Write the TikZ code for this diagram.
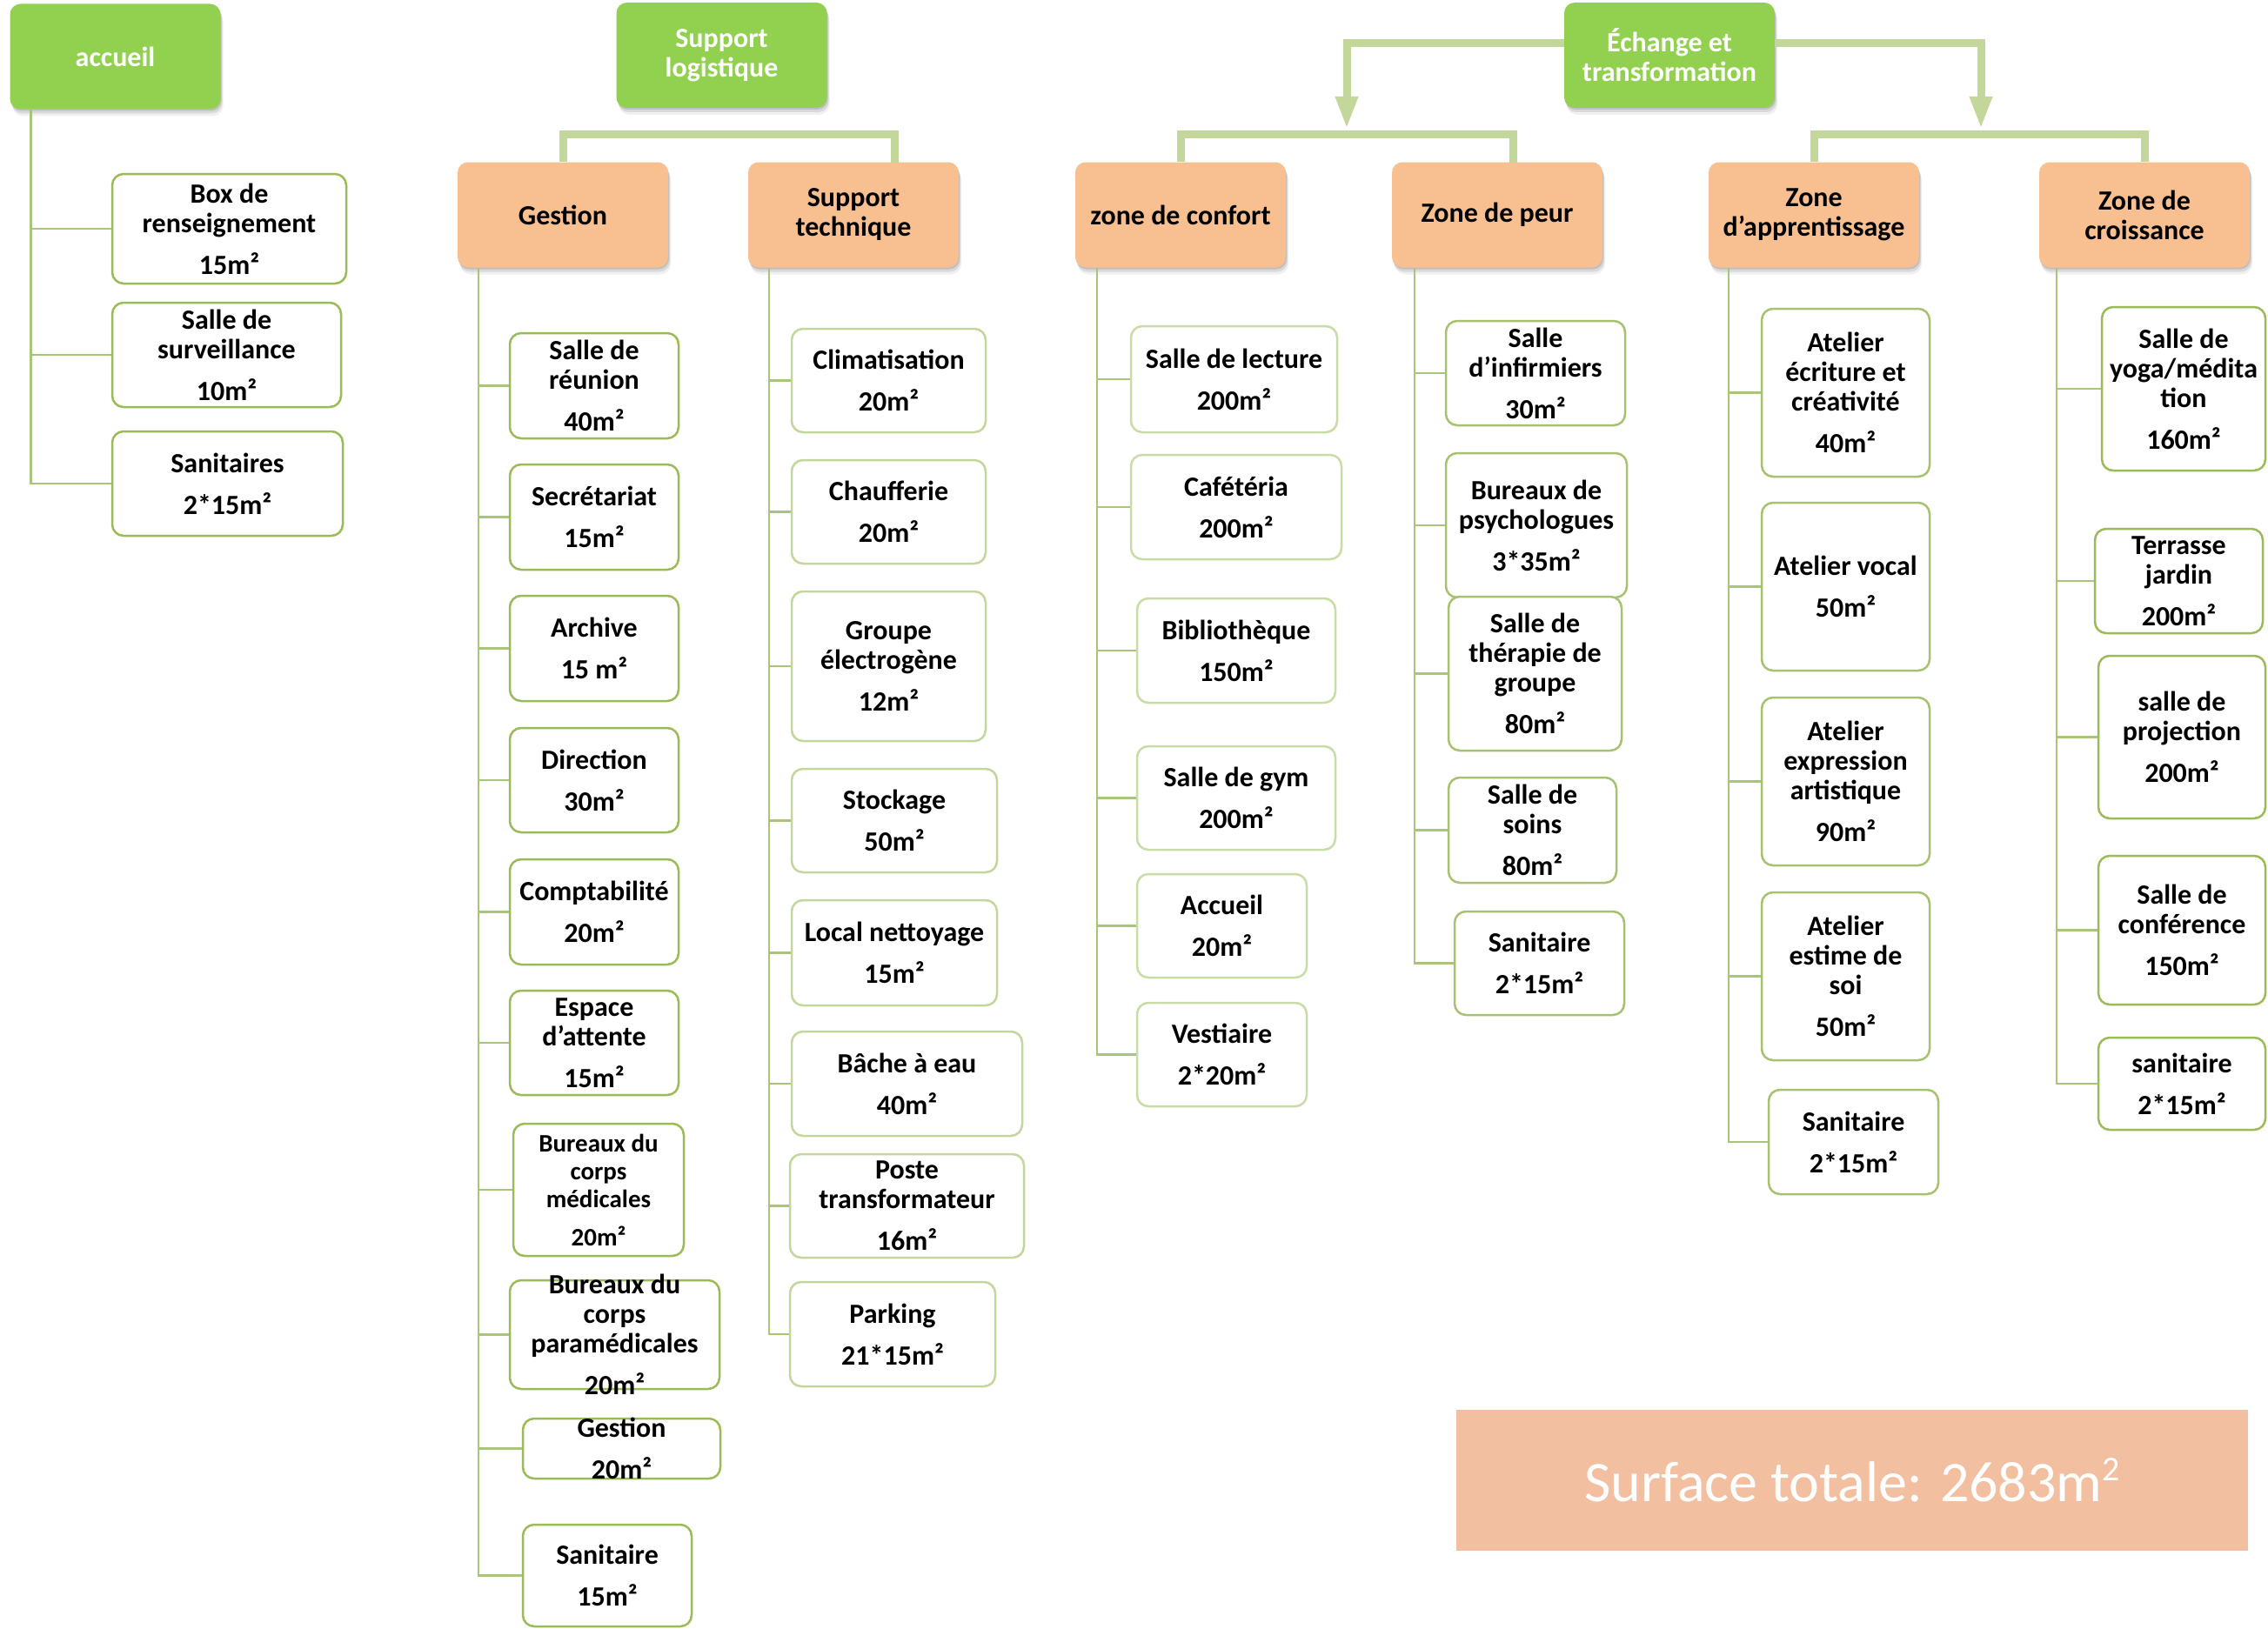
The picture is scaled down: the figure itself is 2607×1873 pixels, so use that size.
\documentclass[tikz,border=0pt]{standalone}
\usepackage{fontspec}
\setmainfont{Carlito}
\usetikzlibrary{arrows.meta,shadows,calc}
\definecolor{gfill}{HTML}{92D050}
\definecolor{ofill}{HTML}{F8BF90}
\definecolor{sfill}{HTML}{F2BFA0}
\definecolor{brk}{HTML}{C4D79B}
\definecolor{lconn}{HTML}{A8C57A}
\definecolor{bA}{HTML}{9BBB59}
\definecolor{bB}{HTML}{C3D69B}
\definecolor{bC}{HTML}{C9DCA5}
\definecolor{bD}{HTML}{A6C270}
\tikzset{
  topbox/.style={rounded corners=12pt, minimum width=242pt, minimum height=121pt,
    align=center, inner sep=0pt,
    drop shadow={shadow xshift=1pt, shadow yshift=-2pt, opacity=0.18, fill=black!70},
    drop shadow={shadow xshift=2pt, shadow yshift=-5pt, opacity=0.14, fill=black!70},
    drop shadow={shadow xshift=3pt, shadow yshift=-8pt, opacity=0.08, fill=black!70}},
  greenbox/.style={topbox, fill=gfill, text=white, font=\fontsize{32}{34}\selectfont\bfseries},
  orangebox/.style={topbox, fill=ofill, text=black, font=\fontsize{32}{34}\selectfont\bfseries},
  leafbox/.style={draw, line width=2.5pt, rounded corners=13pt, fill=white, inner sep=0pt},
  ltext/.style={align=center, inner sep=0pt, font=\fontsize{32}{34}\selectfont\bfseries},
  smalltext/.style={align=center, inner sep=0pt, font=\fontsize{29}{32}\selectfont\bfseries},
  bracket/.style={draw=brk, line width=9pt, line join=miter},
  arrowline/.style={draw=brk, line width=9pt, line join=miter, -{Triangle[width=24pt,length=37pt]}},
  conn/.style={draw=lconn, line width=2.5pt},
}
\newcommand\leaf[8]{%
  \pgfmathsetmacro\lfW{#6-#4}\pgfmathsetmacro\lfH{#7-#5}%
  \pgfmathsetmacro\lfX{(#4+#6)/2}\pgfmathsetmacro\lfY{(#5+#7)/2}%
  \node[leafbox,#1,minimum width=\lfW pt,minimum height=\lfH pt] (#3) at (\lfX,\lfY) {};
  \node[#2] at (#3.center) {#8};}
\begin{document}
\begin{tikzpicture}[x=1pt,y=-1pt]
\useasboundingbox (0,0) rectangle (2607,1873);
\fill[white] (0,0) rectangle (2607,1873);

\coordinate (sb) at (1028,187);
\coordinate (pb) at (1739,187);
\coordinate (ey) at (0,50);
\coordinate (al) at (1548,148);
\coordinate (ar) at (2277,148);

% top level
\node[greenbox] (accueil) at (132.5,65) {accueil};
\node[greenbox] (slog) at (829.5,63.5) {Support\\logistique};
\node[greenbox] (ech) at (1919,63.5) {Échange et\\transformation};

% second level
\node[orangebox] (gestion) at (647,247) {Gestion};
\node[orangebox] (stech) at (981,247) {Support\\technique};
\node[orangebox] (confort) at (1357,247) {zone de confort};
\node[orangebox] (peur) at (1721,247) {Zone de peur};
\node[orangebox] (app) at (2085,247) {Zone\\d’apprentissage};
\node[orangebox] (crois) at (2465,247) {Zone de\\croissance};

\draw[bracket] (gestion.north) -- ++(0,-32) -| (sb);
\draw[bracket] (confort.north) -- ++(0,-32) -| (pb);
\draw[bracket] (app.north) -- ++(0,-32) -| (crois.north);
\draw[arrowline] (ech.west |- ey) -| (al);
\draw[arrowline] (ech.east |- ey) -| (ar);

% accueil leaves
\leaf{draw=bA}{ltext}{a1}{129}{200}{398}{326}{Box de\\renseignement\\[14pt]15m²}
\leaf{draw=bA}{ltext}{a2}{129}{348}{392}{468}{Salle de\\surveillance\\[14pt]10m²}
\leaf{draw=bA}{ltext}{a3}{129}{496}{394}{616}{Sanitaires\\[14pt]2*15m²}

% gestion leaves
\leaf{draw=bA}{ltext}{g1}{586}{383}{780}{504}{Salle de\\réunion\\[14pt]40m²}
\leaf{draw=bA}{ltext}{g2}{586}{534}{780}{655}{Secrétariat\\[14pt]15m²}
\leaf{draw=bA}{ltext}{g3}{586}{685}{780}{806}{Archive\\[14pt]15 m²}
\leaf{draw=bA}{ltext}{g4}{586}{837}{780}{957}{Direction\\[14pt]30m²}
\leaf{draw=bA}{ltext}{g5}{586}{988}{780}{1109}{Comptabilité\\[14pt]20m²}
\leaf{draw=bA}{ltext}{g6}{586}{1139}{780}{1259}{Espace\\d’attente\\[14pt]15m²}
\leaf{draw=bA}{smalltext}{g7}{590}{1292}{786}{1444}{Bureaux du\\corps\\médicales\\[12pt]20m²}
\leaf{draw=bA}{ltext}{g8}{586}{1472}{827}{1597}{Bureaux du\\corps\\paramédicales\\[14pt]20m²}
\leaf{draw=bA}{ltext}{g9}{601}{1631}{828}{1700}{Gestion\\[14pt]20m²}
\leaf{draw=bA}{ltext}{g10}{601}{1753}{795}{1870}{Sanitaire\\[14pt]15m²}

% support technique leaves
\leaf{draw=bB}{ltext}{t1}{910}{378}{1133}{497}{Climatisation\\[14pt]20m²}
\leaf{draw=bB}{ltext}{t2}{910}{529}{1133}{648}{Chaufferie\\[14pt]20m²}
\leaf{draw=bB}{ltext}{t3}{910}{680}{1133}{852}{Groupe\\électrogène\\[14pt]12m²}
\leaf{draw=bB}{ltext}{t4}{910}{884}{1146}{1003}{Stockage\\[14pt]50m²}
\leaf{draw=bB}{ltext}{t5}{910}{1035}{1146}{1156}{Local nettoyage\\[14pt]15m²}
\leaf{draw=bB}{ltext}{t6}{910}{1186}{1175}{1306}{Bâche à eau\\[14pt]40m²}
\leaf{draw=bB}{ltext}{t7}{908}{1327}{1177}{1446}{Poste\\transformateur\\[14pt]16m²}
\leaf{draw=bB}{ltext}{t8}{908}{1474}{1144}{1594}{Parking\\[14pt]21*15m²}

% zone de confort leaves
\leaf{draw=bC}{ltext}{c1}{1300}{375}{1537}{497}{Salle de lecture\\[14pt]200m²}
\leaf{draw=bC}{ltext}{c2}{1300}{523}{1542}{643}{Cafétéria\\[14pt]200m²}
\leaf{draw=bC}{ltext}{c3}{1307}{688}{1535}{808}{Bibliothèque\\[14pt]150m²}
\leaf{draw=bC}{ltext}{c4}{1307}{858}{1535}{977}{Salle de gym\\[14pt]200m²}
\leaf{draw=bC}{ltext}{c5}{1307}{1005}{1502}{1124}{Accueil\\[14pt]20m²}
\leaf{draw=bC}{ltext}{c6}{1307}{1153}{1502}{1272}{Vestiaire\\[14pt]2*20m²}

% zone de peur leaves
\leaf{draw=bD}{ltext}{p1}{1662}{369}{1868}{489}{Salle\\d’infirmiers\\[14pt]30m²}
\leaf{draw=bD}{ltext}{p2}{1662}{521}{1870}{687}{Bureaux de\\psychologues\\[14pt]3*35m²}
\leaf{draw=bD}{ltext}{p3}{1665}{686}{1864}{863}{Salle de\\thérapie de\\groupe\\[14pt]80m²}
\leaf{draw=bD}{ltext}{p4}{1665}{894}{1858}{1015}{Salle de\\soins\\[14pt]80m²}
\leaf{draw=bD}{ltext}{p5}{1672}{1048}{1867}{1167}{Sanitaire\\[14pt]2*15m²}

% zone d'apprentissage leaves
\leaf{draw=bD}{ltext}{ap1}{2025}{355}{2218}{548}{Atelier\\écriture et\\créativité\\[14pt]40m²}
\leaf{draw=bD}{ltext}{ap2}{2025}{578}{2218}{771}{Atelier vocal\\[14pt]50m²}
\leaf{draw=bD}{ltext}{ap3}{2025}{802}{2218}{995}{Atelier\\expression\\artistique\\[14pt]90m²}
\leaf{draw=bD}{ltext}{ap4}{2025}{1026}{2218}{1219}{Atelier\\estime de\\soi\\[14pt]50m²}
\leaf{draw=bD}{ltext}{ap5}{2033}{1253}{2228}{1373}{Sanitaire\\[14pt]2*15m²}

% zone de croissance leaves
\leaf{draw=bA}{ltext}{cr1}{2416}{353}{2604}{541}{Salle de\\yoga/médita\\tion\\[14pt]160m²}
\leaf{draw=bA}{ltext}{cr2}{2408}{608}{2601}{728}{Terrasse\\jardin\\[14pt]200m²}
\leaf{draw=bA}{ltext}{cr3}{2412}{754}{2604}{941}{salle de\\projection\\[14pt]200m²}
\leaf{draw=bA}{ltext}{cr4}{2412}{984}{2604}{1155}{Salle de\\conférence\\[14pt]150m²}
\leaf{draw=bA}{ltext}{cr5}{2412}{1193}{2604}{1299}{sanitaire\\[14pt]2*15m²}

% column connectors
\coordinate (av) at ($(accueil.south west)+(24,0)$);
\draw[conn] (av) |- (a3.west);
\foreach \n in {a1,a2} \draw[conn] (av |- \n.west) -- (\n.west);

\coordinate (gv) at ($(gestion.south west)+(24,0)$);
\draw[conn] (gv) |- (g10.west);
\foreach \n in {g1,g2,g3,g4,g5,g6,g7,g8,g9} \draw[conn] (gv |- \n.west) -- (\n.west);

\coordinate (tv) at ($(stech.south west)+(24,0)$);
\draw[conn] (tv) |- (t8.west);
\foreach \n in {t1,t2,t3,t4,t5,t6,t7} \draw[conn] (tv |- \n.west) -- (\n.west);

\coordinate (cv) at ($(confort.south west)+(25,0)$);
\draw[conn] (cv) |- (c6.west);
\foreach \n in {c1,c2,c3,c4,c5} \draw[conn] (cv |- \n.west) -- (\n.west);

\coordinate (pv) at ($(peur.south west)+(26,0)$);
\draw[conn] (pv) |- (p5.west);
\foreach \n in {p1,p2,p3,p4} \draw[conn] (pv |- \n.west) -- (\n.west);

\coordinate (apv) at ($(app.south west)+(23,0)$);
\draw[conn] (apv) |- (ap5.west);
\foreach \n in {ap1,ap2,ap3,ap4} \draw[conn] (apv |- \n.west) -- (\n.west);

\coordinate (crv) at ($(crois.south west)+(20,0)$);
\draw[conn] (crv) |- (cr5.west);
\foreach \n in {cr1,cr2,cr3,cr4} \draw[conn] (crv |- \n.west) -- (\n.west);

% total surface
\node[fill=sfill, minimum width=910pt, minimum height=162pt, inner sep=0pt, text=white,
  font=\fontsize{66}{70}\selectfont] (total) at (2129,1702)
  {Surface totale: 2683m\raisebox{24pt}{\fontsize{40}{40}\selectfont 2}};
\end{tikzpicture}
\end{document}
